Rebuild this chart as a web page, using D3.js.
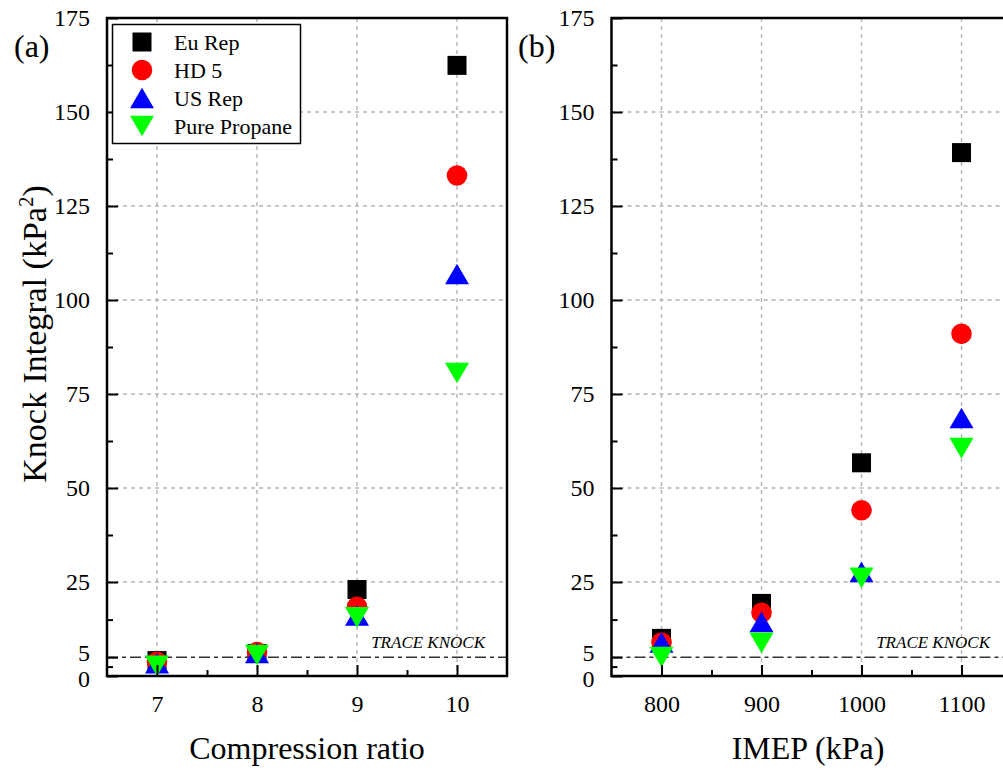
<!DOCTYPE html>
<html><head><meta charset="utf-8">
<script src="https://cdn.jsdelivr.net/npm/d3@7"></script>
<style>body{margin:0;background:#fff}svg{display:block}text{font-family:"Liberation Serif","Times New Roman",serif;fill:#000}</style>
</head><body><div id="c"></div>
<script>
// ---- data ----
const seriesNames = ["Eu Rep", "HD 5", "US Rep", "Pure Propane"];
const crCats = [7, 8, 9, 10];
const imepCats = [800, 900, 1000, 1100];
const euRepA = [4.1, 6.0, 23.0, 162.4];
const hd5A = [3.8, 6.4, 18.4, 133.1];
const usRepA = [3.4, 6.1, 16.1, 106.9];
const propaneA = [2.7, 5.6, 15.6, 80.6];
const euRepB = [10.0, 19.3, 56.7, 139.2];
const hd5B = [8.9, 16.8, 44.1, 91.0];
const usRepB = [8.95, 14.4, 27.7, 68.6];
const propaneB = [5.05, 8.8, 26.1, 60.6];
const yTicks = [0, 5, 25, 50, 75, 100, 125, 150, 175];
const crTicks = [7, 8, 9, 10];
const imepTicks = [800, 900, 1000, 1100];
const traceKnock = 5;

const W = 1003, H = 774;
const svg = d3.select("#c").append("svg").attr("width", W).attr("height", H);

const colors = ["#000000", "#ff0000", "#0000ff", "#00ff00"];
const shapes = ["square", "circle", "up", "down"];

function marker(g, shape, color, x, y) {
  if (shape === "square") {
    g.append("rect").attr("x", x - 9.5).attr("y", y - 9.5).attr("width", 19).attr("height", 19).attr("fill", color);
  } else if (shape === "circle") {
    g.append("circle").attr("cx", x).attr("cy", y).attr("r", 10.3).attr("fill", color);
  } else if (shape === "up") {
    g.append("path").attr("d", `M${x - 12},${y + 10.3}L${x + 12},${y + 10.3}L${x},${y - 10.3}Z`).attr("fill", color);
  } else {
    g.append("path").attr("d", `M${x - 12},${y - 10.3}L${x + 12},${y - 10.3}L${x},${y + 10.3}Z`).attr("fill", color);
  }
}

function minorBetween(arr) {
  const m = [];
  for (let i = 0; i < arr.length - 1; i++) m.push((arr[i] + arr[i + 1]) / 2);
  return m;
}

function panel(opts) {
  const { left, right, top, bottom, xDomain, xTicks, cats, data, label, xTitle, titleX, traceEnd } = opts;
  const x = d3.scaleLinear().domain(xDomain).range([left, right]);
  const y = d3.scaleLinear().domain([0, 175]).range([bottom, top]);
  const g = svg.append("g");
  const step = xTicks[1] - xTicks[0];

  // grid
  const grid = g.append("g").attr("stroke", "#b3b3b3").attr("stroke-width", 1.4).attr("stroke-dasharray", "4,4");
  xTicks.forEach(t => grid.append("line").attr("x1", x(t)).attr("x2", x(t)).attr("y1", top).attr("y2", bottom));
  yTicks.filter(t => t >= 25 && t < 175).forEach(t => grid.append("line").attr("x1", left).attr("x2", right).attr("y1", y(t)).attr("y2", y(t)));

  // trace knock line
  g.append("line").attr("x1", left).attr("x2", right).attr("y1", y(traceKnock)).attr("y2", y(traceKnock))
    .attr("stroke", "#333").attr("stroke-width", 1.6).attr("stroke-dasharray", "11,4,4,4");
  g.append("text").attr("x", traceEnd).attr("y", y(traceKnock) - 9).attr("text-anchor", "end")
    .attr("font-style", "italic").attr("font-size", 17).text("TRACE KNOCK");

  // markers
  data.forEach((vals, si) => {
    const mg = g.append("g");
    vals.forEach((v, i) => marker(mg, shapes[si], colors[si], x(cats[i]), y(v)));
  });

  // axes
  const xMinorVals = [xTicks[0] - step / 2, ...minorBetween(xTicks), xTicks[xTicks.length - 1] + step / 2]
    .filter(v => v > xDomain[0] && v < xDomain[1]);
  const xAxis = d3.axisBottom(x).tickValues(xTicks).tickSize(-11).tickPadding(19).tickFormat(d3.format("d"));
  const xMinor = d3.axisBottom(x).tickValues(xMinorVals).tickSize(-6).tickFormat("");
  const yAxis = d3.axisLeft(y).tickValues(yTicks).tickSize(-11).tickPadding(17).tickFormat(d3.format("d"));
  const yAxisMinor = d3.axisLeft(y).tickValues(minorBetween(yTicks)).tickSize(-6).tickFormat("");

  [xAxis, xMinor].forEach(ax => {
    const a = g.append("g").attr("transform", `translate(0,${bottom})`).call(ax);
    a.select(".domain").remove();
    a.selectAll("line").attr("stroke", "#000").attr("stroke-width", 2);
    a.selectAll("text").attr("font-size", 24).attr("font-family", "Liberation Serif");
  });
  [yAxis, yAxisMinor].forEach(ax => {
    const a = g.append("g").attr("transform", `translate(${left},0)`).call(ax);
    a.select(".domain").remove();
    a.selectAll("line").attr("stroke", "#000").attr("stroke-width", 2);
    a.selectAll("text").attr("font-size", 24).attr("font-family", "Liberation Serif")
      .attr("dy", d => d === 5 ? "0.12em" : d === 0 ? "0.42em" : "0.32em");
  });

  // frame
  g.append("rect").attr("x", left).attr("y", top).attr("width", right - left).attr("height", bottom - top)
    .attr("fill", "none").attr("stroke", "#000").attr("stroke-width", 2.5);

  // panel label
  g.append("text").attr("x", label.x).attr("y", 57).attr("font-size", 32).text(label.t);
  // x title
  g.append("text").attr("x", titleX).attr("y", 759).attr("text-anchor", "middle").attr("font-size", 32).text(xTitle);
  return { x, y, g };
}

panel({
  left: 107, right: 507, top: 18, bottom: 676, xDomain: [6.5, 10.5], xTicks: crTicks, cats: crCats,
  data: [euRepA, hd5A, usRepA, propaneA], label: { x: 14, t: "(a)" }, xTitle: "Compression ratio", titleX: 307, traceEnd: 485
});
panel({
  left: 611.5, right: 1011.5, top: 18, bottom: 676, xDomain: [750, 1150], xTicks: imepTicks, cats: imepCats,
  data: [euRepB, hd5B, usRepB, propaneB], label: { x: 518, t: "(b)" }, xTitle: "IMEP (kPa)", titleX: 808, traceEnd: 990
});

// y title
const yt = svg.append("text").attr("transform", "translate(46,334) rotate(-90)").attr("text-anchor", "middle").attr("font-size", 34);
yt.append("tspan").text("Knock Integral (kPa");
yt.append("tspan").attr("dy", -13).attr("font-size", 21).text("2");
yt.append("tspan").attr("dy", 13).text(")");

// legend
const lg = svg.append("g");
lg.append("rect").attr("x", 112.5).attr("y", 24.5).attr("width", 188).attr("height", 119).attr("fill", "#fff").attr("stroke", "#000").attr("stroke-width", 1.5);
seriesNames.forEach((n, i) => {
  const cy = 42 + i * 28;
  marker(lg, shapes[i], colors[i], 142, cy);
  lg.append("text").attr("x", 174).attr("y", cy + 8).attr("font-size", 22).text(n);
});
</script></body></html>
